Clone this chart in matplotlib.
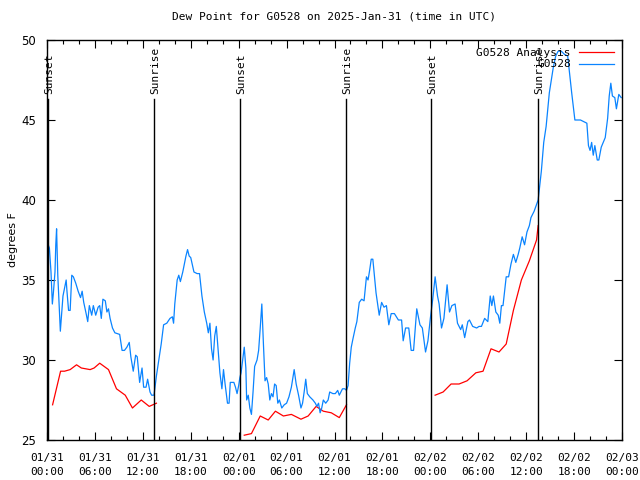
import numpy as np
import matplotlib
matplotlib.use("Agg")
import matplotlib.pyplot as plt
import matplotlib.ticker as ticker

MONO = 'DejaVu Sans Mono'

# hours after 2025-01-31 00:00 UTC
obs_hours = [
    0.15, 0.3, 0.5, 0.67, 0.8, 1.0, 1.1, 1.2, 1.35, 1.5, 1.67, 1.85, 2.0, 2.2, 2.4,
    2.5, 2.7, 2.9, 3.1, 3.3, 3.6, 3.9, 4.2, 4.4, 4.6, 4.9, 5.1, 5.3, 5.6, 5.8,
    6.1, 6.4, 6.6, 6.8, 7.0, 7.3, 7.5, 7.7, 7.9, 8.2, 8.5, 9.1, 9.4, 9.7, 10.0,
    10.3, 10.5, 10.8, 11.1, 11.3, 11.6, 11.9, 12.1, 12.4, 12.6, 12.9, 13.1, 13.4,
    13.7, 14.0, 14.3, 14.6, 15.0, 15.4, 15.7, 15.85, 16.0, 16.3, 16.5, 16.7, 17.0,
    17.4, 17.6, 17.8, 18.0, 18.4, 18.8, 19.1, 19.4, 19.7, 20.0, 20.2, 20.4, 20.6,
    20.8, 21.0, 21.2, 21.4, 21.65, 21.9, 22.1, 22.3, 22.6, 22.8, 22.95, 23.4, 23.6,
    23.8, 24.0, 24.15, 24.3, 24.5, 24.7, 24.9, 25.0, 25.2, 25.4, 25.6, 25.8, 26.0,
    26.3, 26.5, 26.7, 26.9, 27.1, 27.3, 27.5, 27.7, 27.9, 28.1, 28.3, 28.5, 28.7,
    28.9, 29.1, 29.4, 29.7, 30.0, 30.3, 30.6, 30.95, 31.2, 31.5, 31.8, 32.0, 32.2,
    32.4, 32.6, 32.9, 33.3, 33.6, 33.8, 34.0, 34.2, 34.4, 34.6, 34.9, 35.2, 35.4,
    35.8, 36.1, 36.4, 36.6, 37.0, 37.3, 37.5, 37.7, 37.9, 38.1, 38.3, 38.6, 38.8,
    39.1, 39.4, 39.7, 40.0, 40.2, 40.4, 40.6, 40.8, 41.2, 41.6, 41.9, 42.2, 42.5,
    42.8, 43.1, 43.5, 44.0, 44.4, 44.6, 44.9, 45.3, 45.6, 45.9, 46.3, 46.7, 47.0,
    47.4, 47.7, 48.0, 48.3, 48.6, 48.9, 49.1, 49.4, 49.7, 50.1, 50.4, 50.7, 51.1,
    51.4, 51.8, 52.0, 52.3, 52.7, 52.9, 53.3, 53.8, 54.1, 54.4, 54.8, 55.2, 55.5,
    55.7, 55.9, 56.2, 56.5, 56.7, 56.9, 57.1, 57.5, 57.8, 58.1, 58.4, 58.7, 59.0,
    59.2, 59.5, 59.8, 60.1, 60.4, 60.6, 61.0, 61.5, 61.9, 62.2, 62.5, 62.9, 63.4,
    63.7, 64.0, 64.4, 64.8, 65.2, 65.7, 66.1, 66.8, 67.6, 67.8, 68.0, 68.2, 68.4,
    68.6, 68.9, 69.1, 69.4, 69.9, 70.2, 70.4, 70.6, 70.8, 71.1, 71.3, 71.6, 71.9,
]
obs_values = [
    37.2, 37.0, 35.5, 33.5, 34.2, 35.5, 37.2, 38.2, 35.3, 33.6, 31.8, 33.0, 34.0, 34.5, 35.0,
    34.3, 33.1, 33.1, 35.3, 35.2, 34.8, 34.3, 33.9, 34.3, 33.6, 32.9, 32.4, 33.4, 32.8, 33.4,
    32.8, 33.3, 33.4, 32.6, 33.8, 33.7, 33.0, 33.2, 32.6, 32.0, 31.7, 31.6, 30.6, 30.6, 30.8,
    31.1, 30.2, 29.3, 30.3, 30.2, 28.6, 29.5, 28.3, 28.3, 28.8, 28.0, 27.8, 27.8,
    29.0, 30.0, 31.0, 32.2, 32.3, 32.6, 32.7, 32.3, 33.5, 35.0, 35.3, 34.9, 35.5,
    36.5, 36.9, 36.5, 36.4, 35.5, 35.4, 35.4, 34.0, 33.0, 32.3, 31.7, 32.3, 30.7,
    30.0, 31.5, 32.1, 30.8, 29.2, 28.2, 29.4, 28.5, 27.3, 27.3, 28.6, 28.6, 28.3,
    27.9, 28.4, 28.9, 29.2, 30.0, 30.8, 29.5, 27.5, 27.8, 27.0, 26.6, 28.0, 29.6,
    30.0, 30.6, 32.0, 33.5, 31.0, 28.7, 28.9, 28.5, 27.5, 27.9, 27.7, 28.5, 28.4,
    27.3, 27.5, 27.0, 27.2, 27.3, 27.7, 28.3, 29.4, 28.5, 27.8, 27.0, 27.3, 28.0,
    28.8, 27.9, 27.7, 27.5, 27.3, 27.1, 27.3, 26.7, 27.0, 27.5, 27.3, 27.5, 28.0,
    27.9, 27.9, 28.1, 27.8, 28.2, 28.2, 28.1, 28.4, 29.8, 30.8, 31.3, 32.0, 32.4,
    33.6, 33.8, 33.7, 35.2, 35.0, 35.6, 36.3, 36.3, 34.2, 32.8, 33.6, 33.3, 33.4,
    32.2, 32.9, 32.9, 32.5, 32.5, 31.2, 32.0, 32.0, 30.6, 30.6, 33.2, 32.2, 32.0,
    30.5, 31.2, 32.6, 33.8, 35.2, 34.0, 33.5, 32.0, 32.6, 34.7, 33.0, 33.4, 33.5,
    32.3, 31.9, 32.2, 31.4, 32.4, 32.5, 32.1, 32.0, 32.1, 32.1, 32.6, 32.4, 34.0,
    33.4, 34.0, 33.0, 32.8, 32.3, 33.4, 33.4, 35.2, 35.2, 36.0, 36.6, 36.1, 36.6,
    37.0, 37.7, 37.2, 38.0, 38.4, 38.9, 39.3, 40.0, 41.8, 43.6, 44.6, 46.7, 48.3,
    49.0, 49.3, 49.3, 49.1, 49.0, 46.7, 45.0, 45.0, 44.8, 43.4, 43.1, 43.6, 42.8,
    43.4, 42.5, 42.5, 43.3, 43.9, 45.1, 46.5, 47.3, 46.5, 46.4, 45.7, 46.6, 46.4,
]

# analysis, nan marks the gaps between runs
ana_hours = [
    0.7, 1.7, 2.2, 2.9, 3.7, 4.3, 5.4, 5.9, 6.6, 7.7, 8.7, 9.8, 10.7, 11.8, 12.8, 13.7,
    19.0,
    24.7, 25.6, 26.7, 27.7, 28.6, 29.6, 30.6, 31.8, 32.7, 33.7, 34.6, 35.6, 36.6, 37.5,
    43.0,
    48.6, 49.6, 50.6, 51.6, 52.6, 53.7, 54.6, 55.6, 56.6, 57.5, 58.4, 59.4, 60.4, 61.3, 61.5,
]
ana_values = [
    27.2, 29.3, 29.3, 29.4, 29.7, 29.5, 29.4, 29.5, 29.8, 29.4, 28.2, 27.8, 27.0, 27.5, 27.1, 27.3,
    np.nan,
    25.3, 25.4, 26.5, 26.25, 26.8, 26.5, 26.6, 26.3, 26.5, 27.1, 26.8, 26.7, 26.4, 27.2,
    np.nan,
    27.8, 28.0, 28.5, 28.5, 28.7, 29.2, 29.3, 30.7, 30.5, 31.0, 33.1, 35.0, 36.2, 37.5, 38.4,
]

sun_hours = [0.1, 13.4, 24.15, 37.5, 48.1, 61.45]
sun_labels = ['Sunset', 'Sunrise', 'Sunset', 'Sunrise', 'Sunset', 'Sunrise']

tick_labels = ['01/31\n00:00', '01/31\n06:00', '01/31\n12:00', '01/31\n18:00',
               '02/01\n00:00', '02/01\n06:00', '02/01\n12:00', '02/01\n18:00',
               '02/02\n00:00', '02/02\n06:00', '02/02\n12:00', '02/02\n18:00',
               '02/03\n00:00']


def plot_dewpoint():
    fig = plt.figure(figsize=(6.4, 4.8), dpi=100)
    ax = fig.add_axes([47 / 640, 40 / 480, 575 / 640, 400 / 480])

    ax.plot(ana_hours, ana_values, color='#ff0000', lw=0.9, label='G0528 Analysis')
    ax.plot(obs_hours, obs_values, color='#0a84ff', lw=0.9, label='G0528')

    for h, lab in zip(sun_hours, sun_labels):
        ax.plot([h, h], [25, 46.3], color='black', lw=1)
        ax.text(h + 0.15, 46.65, lab, rotation=90, ha='center', va='bottom',
                fontsize=8, family=MONO)

    ax.set_xlim(0, 72)
    ax.set_ylim(25, 50)
    ax.xaxis.set_minor_locator(ticker.MultipleLocator(2))
    ax.set_xticks(np.arange(0, 73, 6))
    ax.set_xticklabels(tick_labels, family=MONO, fontsize=8, linespacing=1.6)
    ax.set_yticks([25, 30, 35, 40, 45, 50])
    ax.tick_params(axis='y', labelsize=8.5, pad=8)
    ax.tick_params(which='both', direction='in', top=True, right=True, width=0.8)
    ax.tick_params(which='major', length=6)
    ax.tick_params(which='minor', length=3)
    ax.tick_params(axis='x', pad=9)
    for s in ax.spines.values():
        s.set_linewidth(1)

    ax.set_title('Dew Point for G0528 on 2025-Jan-31 (time in UTC)',
                 family=MONO, fontsize=8, pad=15)
    ax.set_ylabel('degrees F', fontsize=8, labelpad=2)

    leg = ax.legend(loc='upper right', frameon=False, markerfirst=False,
                    prop={'family': MONO, 'size': 8}, handlelength=3.2,
                    borderaxespad=0.3, labelspacing=0.15, handletextpad=0.7)
    for t in leg.get_texts():
        t.set_ha('right')
    leg._legend_box.align = 'right'

    fig.savefig('out.png', dpi=100)
    plt.close(fig)


if __name__ == '__main__':
    plot_dewpoint()
